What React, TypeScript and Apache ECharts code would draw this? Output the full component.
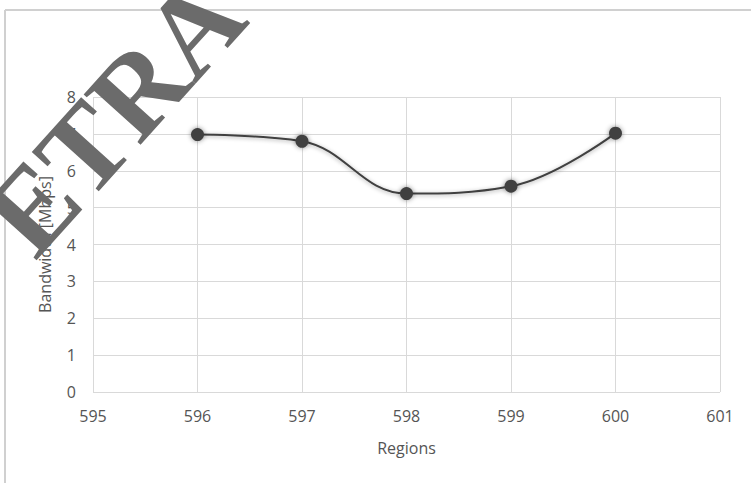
import React, { useEffect, useRef } from "react";
import * as echarts from "echarts";

const regions = [596, 597, 598, 599, 600];
const bandwidth = [6.98, 6.8, 5.38, 5.58, 7.02];
const xTitle = "Regions";
const yTitle = "Bandwidth [Mbps]";
const watermark = "ETRA";

export default function App() {
  const ref = useRef<HTMLDivElement>(null);
  useEffect(() => {
    if (!ref.current) return;
    const chart = echarts.init(ref.current, undefined, { renderer: "svg" });
    const font = "'Open Sans', 'Noto Sans', sans-serif";
    chart.setOption({
      animation: false,
      backgroundColor: "#ffffff",
      grid: { left: 93, right: 31, top: 97, bottom: 91 },
      xAxis: {
        type: "value",
        min: 595,
        max: 601,
        interval: 1,
        name: xTitle,
        nameLocation: "middle",
        nameGap: 48,
        nameTextStyle: { color: "#555555", fontSize: 16, fontFamily: font },
        axisLine: { show: false },
        axisTick: { show: false },
        axisLabel: { color: "#555555", fontSize: 16, fontFamily: font, margin: 16 },
        splitLine: { show: true, lineStyle: { color: "#d9d9d9", width: 1 } },
      },
      yAxis: {
        type: "value",
        min: 0,
        max: 8,
        interval: 1,
        name: yTitle,
        nameLocation: "middle",
        nameGap: 40,
        nameTextStyle: { color: "#555555", fontSize: 16, fontFamily: font },
        axisLine: { show: false },
        axisTick: { show: false },
        axisLabel: { color: "#555555", fontSize: 16, fontFamily: font, margin: 17 },
        splitLine: { show: true, lineStyle: { color: "#d9d9d9", width: 1 } },
      },
      series: [
        {
          type: "line",
          data: regions.map((r, i) => [r, bandwidth[i]]),
          smooth: 0.4,
          symbol: "circle",
          symbolSize: 13,
          lineStyle: {
            color: "#404040",
            width: 2,
            shadowColor: "rgba(0,0,0,0.35)",
            shadowBlur: 4,
            shadowOffsetY: 1,
          },
          itemStyle: {
            color: "#404040",
            shadowColor: "rgba(0,0,0,0.45)",
            shadowBlur: 5,
          },
        },
      ],
      graphic: [
        {
          type: "line",
          shape: { x1: 5, y1: 10, x2: 751, y2: 10 },
          style: { stroke: "#d0d0d0", lineWidth: 2 },
          silent: true,
        },
        {
          type: "line",
          shape: { x1: 5, y1: 10, x2: 5, y2: 483 },
          style: { stroke: "#d0d0d0", lineWidth: 2 },
          silent: true,
        },
        {
          type: "text",
          x: 114,
          y: 116,
          rotation: (48 * Math.PI) / 180,
          z: 100,
          style: {
            text: watermark,
            fill: "#6b6b6b",
            font: "bold 116px 'Liberation Serif', 'DejaVu Serif', serif",
            textAlign: "center",
            textVerticalAlign: "middle",
          },
          silent: true,
        },
      ],
    });
    return () => chart.dispose();
  }, []);
  return (
    <div
      ref={ref}
      style={{ position: "fixed", left: 0, top: 0, width: 751, height: 483 }}
    />
  );
}
